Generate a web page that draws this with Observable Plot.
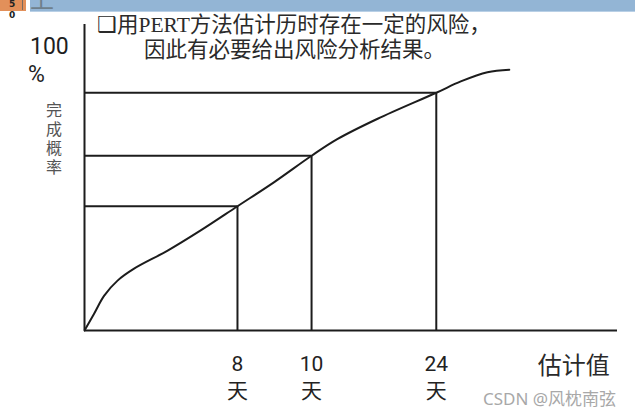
<!DOCTYPE html>
<html>
<head>
<meta charset="utf-8">
<script src="https://cdn.jsdelivr.net/npm/d3@7"></script>
<script src="https://cdn.jsdelivr.net/npm/@observablehq/plot@0.6"></script>
<style>
  html, body { margin: 0; padding: 0; background: #fff; }
  #wrap { position: relative; width: 635px; height: 418px; overflow: hidden; }
  #wrap svg { position: absolute; left: 0; top: 0; }
  .abs { position: absolute; white-space: nowrap; }
  .cjk { font-family: "Noto Sans CJK SC", sans-serif; }
</style>
</head>
<body>
<div id="wrap">
  <div class="abs" style="left:30px;top:0;width:605px;height:11px;background:#93b5d5;border-bottom:1px solid #b9d0e6;"></div>
  <div class="abs" style="left:0;top:0;width:26px;height:11px;background:#e2905a;"></div>
  <div class="abs" style="left:22px;top:0;width:1px;height:10px;background:#7a6a60;"></div>
  <div class="abs" style="left:9px;top:0px;font:bold 9px 'DejaVu Sans';line-height:9px;color:#222;">5</div>
  <div class="abs" style="left:9px;top:11px;font:bold 9px 'DejaVu Sans';line-height:9px;color:#222;">0</div>
  <div class="abs" style="left:30px;top:0;width:26px;height:11px;overflow:hidden;">
    <div class="abs cjk" style="left:0;top:-14px;font-size:24px;line-height:24px;color:#6f7f8c;">上</div>
  </div>
  <div class="abs" style="left:97px;top:12px;font-size:21.5px;line-height:26px;color:#2a2a2a;font-family:'Liberation Serif','Noto Sans CJK SC',serif;">❑用PERT方法估计历时存在一定的风险，</div>
  <div class="abs" style="left:144px;top:37px;font-size:21.5px;line-height:26px;color:#2a2a2a;font-family:'Liberation Serif','Noto Sans CJK SC',serif;">因此有必要给出风险分析结果。</div>
  <div class="abs" style="left:30px;top:33px;font:23px Roboto, sans-serif;line-height:28px;color:#1e1e1e;">100</div>
  <div class="abs" style="left:28px;top:61px;font:23px Roboto, sans-serif;line-height:28px;color:#1e1e1e;">%</div>
  <div class="abs cjk" style="left:44px;top:102px;writing-mode:vertical-rl;font-size:16px;line-height:19px;letter-spacing:3px;color:#555;">完成概率</div>
  <div class="abs" style="left:483px;top:388px;font:17px 'Noto Sans','Noto Sans CJK SC',sans-serif;line-height:22px;color:#a8a8a8;">CSDN @风枕南弦</div>
</div>
<script>
// Completion-probability curve (x: position along the estimate axis, y: percent)
const curveX = [0, 1.8, 3.7, 6.2, 9.3, 15.6, 21.8, 28.7, 35.6, 42.6, 47.5, 55.0, 66.0, 70.6, 75.6, 79.7];
const curveY = [0, 5.5, 11.4, 16.3, 20.2, 26.1, 32.7, 40.6, 48.5, 57.1, 62.6, 69.2, 77.7, 81.4, 84.4, 85.2];

// Marked estimates and their probabilities
const refLabels = ["8", "10", "24"];
const refX = [28.7, 42.6, 66.0];
const refY = [40.6, 57.1, 77.7];
const unitLabel = "天";
const xTitle = "估计值";

const curve = curveX.map((x, i) => ({x, y: curveY[i]}));
const refs = refLabels.map((label, i) => ({label, x: refX[i], y: refY[i]}));

const ink = "#1c1c1c";
const chart = Plot.plot({
  width: 635,
  height: 418,
  marginLeft: 84,
  marginRight: 18,
  marginTop: 24,
  marginBottom: 88,
  x: {domain: [0, 100], axis: null},
  y: {domain: [0, 100], axis: null},
  marks: [
    // axes
    Plot.ruleX([0], {y1: 0, y2: 100, stroke: ink, strokeWidth: 2}),
    Plot.ruleY([0], {x1: 0, x2: 100, stroke: ink, strokeWidth: 2}),
    // guide lines from each marked point to the axes
    Plot.ruleY(refs, {y: "y", x1: 0, x2: "x", stroke: ink, strokeWidth: 2}),
    Plot.ruleX(refs, {x: "x", y1: 0, y2: "y", stroke: ink, strokeWidth: 2}),
    // cumulative curve
    Plot.line(curve, {x: "x", y: "y", curve: "catmull-rom", stroke: ink, strokeWidth: 2}),
    // tick labels: value over unit
    Plot.text(refs, {x: "x", y: 0, text: d => `${d.label}\n${unitLabel}`, dy: 45, fontSize: 21, lineHeight: 1.28, fill: "#222", fontFamily: "Roboto, 'Noto Sans CJK SC', sans-serif"}),
    Plot.text([xTitle], {x: 91.8, y: 0, text: d => d, dy: 36, fontSize: 24, fill: "#2a2a2a", fontFamily: "Noto Sans CJK SC"})
  ]
});
document.getElementById("wrap").prepend(chart);
</script>
</body>
</html>
